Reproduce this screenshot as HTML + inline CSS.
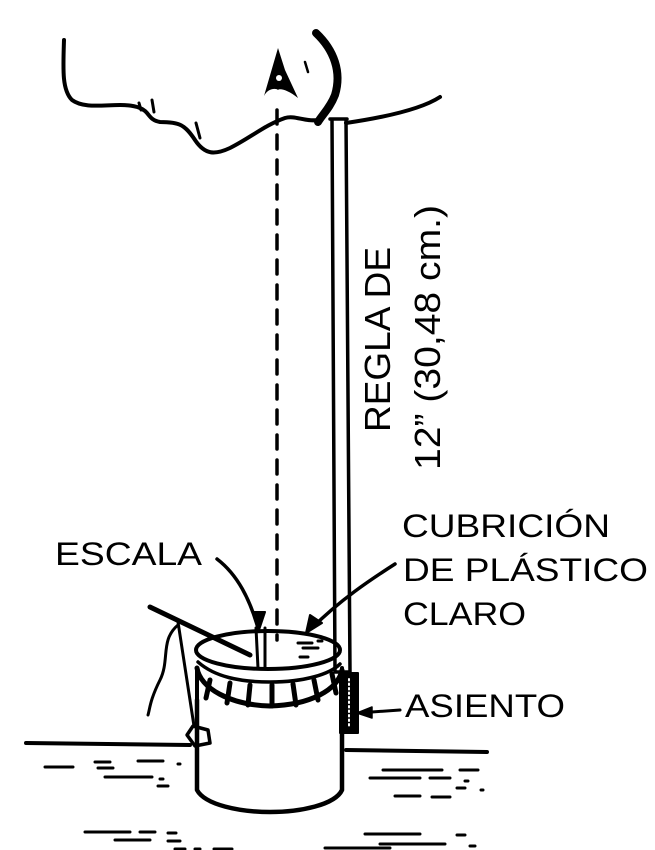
<!DOCTYPE html>
<html><head><style>
html,body{margin:0;padding:0;background:#fff;}
svg{display:block;}
text{font-family:"Liberation Sans",Arial,sans-serif;fill:#000;}
</style></head><body>
<svg width="655" height="850" viewBox="0 0 655 850" xmlns="http://www.w3.org/2000/svg">
<g fill="none" stroke="#000" stroke-linecap="round" stroke-linejoin="round">
<!-- face -->
<path d="M64,40 C63,70 62,90 72,100 C88,112 120,100 140,108 C150,112 148,120 160,122 C180,122 185,125 195,140 C205,155 215,155 230,148 C250,138 265,125 285,118 C295,115 305,122 318,120" stroke-width="4"/>
<path d="M139,103 L141,110 M152,100 L154,112 M196,123 L200,138" stroke-width="3"/>
<path d="M346,123 C380,118 420,110 440,97" stroke-width="4"/>
<!-- eyebrow -->
<path d="M316,33 C334,50 342,72 335,95 C330,108 322,115 318,122" stroke-width="8"/>
<path d="M305,62 L308,72" stroke-width="2.5"/>
<!-- dashed sight line -->
<path d="M277,110 L277,640" stroke-width="3.5" stroke-dasharray="14,11"/>
<!-- ruler -->
<path d="M332,119 L335,672 M346,119 L350,672 M330,119 L347,119 M335,672 L350,672" stroke-width="3.5"/>
<!-- asiento knurl -->
<rect x="340" y="673" width="18" height="60" fill="#000" stroke-width="2"/>
<path d="M349,679 L349,728" stroke="#fff" stroke-width="2" stroke-dasharray="1.5,3"/>
<!-- container body -->
<path d="M197,700 L197,790 C205,805 240,812 270,812 C300,812 335,805 342,790 L342,705" stroke-width="4.5"/>
<!-- lid band -->
<path d="M197,668 C200,688 230,705 270,706 C310,705 338,690 342,670" stroke-width="5"/>
<path d="M197,668 L197,700 M342,668 L342,700" stroke-width="4"/>
<path d="M210,680 L206,698 M230,683 L227,703 M250,685 L248,705 M272,685 L272,706 M293,684 L296,705 M314,680 L318,700 M332,674 L336,693" stroke-width="5"/>
<!-- top ellipse -->
<ellipse cx="268" cy="650" rx="72" ry="19" stroke-width="4"/>
<path d="M198,662 C215,677 240,682 270,682 C305,682 330,674 340,664" stroke-width="3.5"/>
<!-- scale mark -->
<path d="M256,628 L258,668 M265,628 L265,668" stroke-width="3"/>
<!-- plastic dots -->
<path d="M298,643 L312,643 M303,648 L318,648 M300,657 L308,657 M318,641 L322,641" stroke-width="3"/>
<!-- tab -->
<path d="M187,735 L193,726 L208,730 L210,743 L195,746 Z" stroke-width="3.5"/>
<!-- hand lines -->
<path d="M150,607 L250,655" stroke-width="5"/>
<path d="M178,622 L194,726" stroke-width="3"/>
<path d="M178,625 C160,640 170,660 160,680 C150,700 150,708 148,715" stroke-width="3"/>
<!-- ground -->
<path d="M26,743 L190,745" stroke-width="4"/>
<path d="M346,750 L487,752" stroke-width="4"/>
<path d="M45,767 L73,767 M95,762 L110,762 M98,768 L113,768 M138,761 L163,761 M178,764 L180,764 M105,777 L152,777 M160,779 L163,779 M158,786 L168,786
M383,770 L442,770 M460,770 L478,770 M370,778 L420,778 M430,778 L450,778 M465,781 L468,781 M457,788 L465,788 M481,790 L483,790 M395,796 L420,796 M432,797 L450,797
M85,832 L130,832 M140,832 L155,832 M168,833 L176,833 M115,840 L150,840 M168,841 L180,841 M175,849 L185,849 M195,849 L200,849 M214,849 L232,849
M365,834 L420,834 M457,835 L465,835 M325,848 L390,848 M380,844 L445,844 M470,846 L475,846" stroke-width="3"/>
<!-- leader arrows -->
<path d="M217,559 C238,575 250,600 258,628" stroke-width="3.5"/>
<path d="M253,612 L259,630 L265,612 Z" fill="#000" stroke-width="2"/>
<path d="M395,564 C370,580 340,600 312,628" stroke-width="3.5"/>
<path d="M310,615 L306,633 L322,623 Z" fill="#000" stroke-width="2"/>
<path d="M358,713 L400,710" stroke-width="3"/>
<path d="M357,713 L372,707 L372,718 Z" fill="#000" stroke-width="1.5"/>
</g>
<!-- eye -->
<path d="M278,48 L264,96 C268,88 276,88 278,90 C280,88 288,90 298,98 L285,70 Z" fill="#000"/>
<circle cx="279" cy="78" r="3" fill="#fff"/>
<!-- labels -->
<text x="55" y="565" font-size="32" textLength="147" lengthAdjust="spacingAndGlyphs">ESCALA</text>
<text x="402" y="537" font-size="32" textLength="208" lengthAdjust="spacingAndGlyphs">CUBRICIÓN</text>
<text x="403" y="581" font-size="32" textLength="245" lengthAdjust="spacingAndGlyphs">DE PLÁSTICO</text>
<text x="403" y="625" font-size="32" textLength="123" lengthAdjust="spacingAndGlyphs">CLARO</text>
<text x="405" y="717" font-size="32" textLength="160" lengthAdjust="spacingAndGlyphs">ASIENTO</text>
<text transform="translate(390,432) rotate(-90)" font-size="36" textLength="185" lengthAdjust="spacingAndGlyphs">REGLA DE</text>
<text transform="translate(440,470) rotate(-90)" font-size="36" textLength="265" lengthAdjust="spacingAndGlyphs">12” (30,48 cm.)</text>
</svg>
</body></html>
